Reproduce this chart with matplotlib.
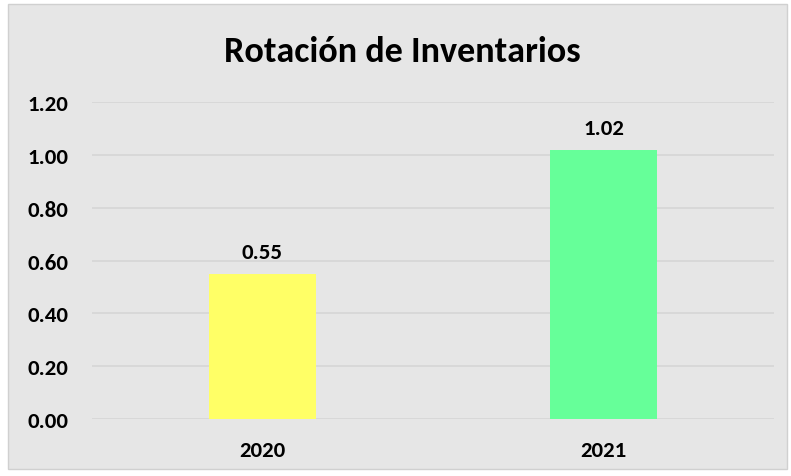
import matplotlib
matplotlib.use("Agg")
import matplotlib.pyplot as plt
from matplotlib.patches import Rectangle

years = ["2020", "2021"]
rotation = [0.55, 1.02]
bar_colors = ["#FFFF66", "#66FF99"]
y_ticks = [0.0, 0.2, 0.4, 0.6, 0.8, 1.0, 1.2]

plt.rcParams["font.family"] = ["Carlito", "DejaVu Sans"]

fig = plt.figure(figsize=(7.91, 4.77), dpi=100)
fig.patch.set_facecolor("white")
fig.patches.append(Rectangle((8 / 791, 7 / 477), 779 / 791, 465 / 477, transform=fig.transFigure,
                             facecolor="#E6E6E6", edgecolor="#D0D0D0", linewidth=1, zorder=-1))

axis = fig.add_axes([92 / 791, 57 / 477, 682 / 791, 317 / 477])
axis.set_zorder(2)
axis.patch.set_alpha(0)
positions = list(range(len(years)))
axis.bar(positions, rotation, width=0.314, color=bar_colors, zorder=3)
for x, value in zip(positions, rotation):
    axis.text(x, value + 0.045, f"{value:.2f}", ha="center", va="bottom", fontsize=16.5, fontweight="bold")

axis.set_xlim(-0.5, 1.5)
axis.set_ylim(0, 1.2)
axis.set_yticks(y_ticks, labels=[f"{t:.2f}" for t in y_ticks])
axis.set_xticks(positions, labels=years)
axis.tick_params(length=0, labelsize=16.5)
axis.tick_params(axis="y", pad=17)
axis.tick_params(axis="x", pad=15)
for label in axis.get_xticklabels() + axis.get_yticklabels():
    label.set_fontweight("bold")
axis.grid(axis="y", color="#D6D6D6", linewidth=1.2, zorder=0)
for spine in axis.spines.values():
    spine.set_visible(False)

fig.text(402 / 791, 1 - 52 / 477, "Rotación de Inventarios", ha="center", va="center",
         fontsize=26, fontweight="bold")

plt.savefig("out.png", dpi=100)
plt.close()
